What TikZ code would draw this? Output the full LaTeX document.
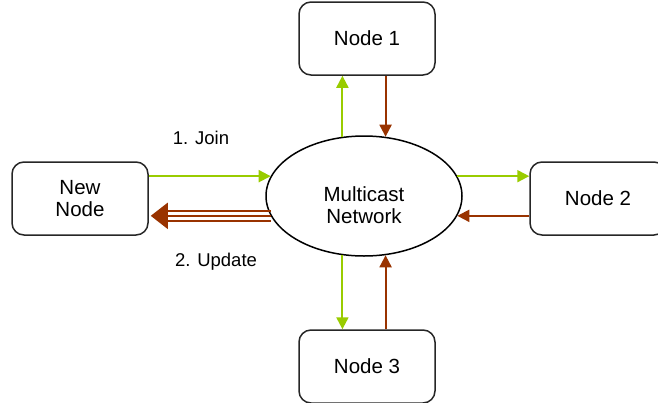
\documentclass[tikz,border=0pt]{standalone}
\usepackage{fontspec}
\setmainfont{Liberation Sans}
\usetikzlibrary{arrows.meta,shapes.geometric}
\definecolor{joingreen}{HTML}{99CC00}
\definecolor{updbrown}{HTML}{993300}
\begin{document}
\begin{tikzpicture}[x=1pt, y=-1pt, line join=round, font=\fontsize{20.5}{22}\selectfont,
	box/.style={draw=black!85, line width=1.5pt, rounded corners=12pt, minimum width=136pt, minimum height=73pt, align=center},
	joinline/.style={joingreen, line width=2pt, -{Triangle[length=12pt,width=12pt]}},
	updline/.style={updbrown, line width=2pt, -{Triangle[length=12pt,width=12pt]}}]
	\useasboundingbox (0,0) rectangle (658,402);
	\node[box] (n1) at (367,38.5) {Node 1};
	\node[box] (new) at (80,198.5) {New\\Node};
	\node[box] (n2) at (598,198.5) {Node 2};
	\node[box] (n3) at (367,366.5) {Node 3};
	\node[draw, ellipse, line width=1.5pt, minimum width=196pt, minimum height=120pt, inner sep=0pt] (net) at (364,196) {};
	\node[align=center] (netlabel) at (364,205) {Multicast\\Network};
	% join and update labels
	\node[font=\fontsize{18.5}{22}\selectfont] (join) at (201,138) {1. Join};
	\node[font=\fontsize{18.5}{22}\selectfont] (update) at (216,262) {2. Update};
	% join request
	\draw[joinline] (net.168 -| new.east) -- (net.168);
	% update, three lines
	\foreach \dy in {-5,5}
	\draw[updbrown, line width=2pt, shorten >=16pt] ([yshift=\dy pt]net.192) -- ([yshift=\dy pt]net.192 -| new.east);
	\draw[updbrown, line width=2pt, -{Triangle[length=17pt,width=26pt]}] (net.192) -- ([xshift=2pt]net.192 -| new.east);
	% other nodes
	\draw[joinline] (net.110) -- (net.110 |- n1.south);
	\draw[updline] (net.70 |- n1.south) -- (net.70);
	\draw[joinline] (net.12) -- (net.12 -| n2.west);
	\draw[updline] (net.348 -| n2.west) -- (net.348);
	\draw[joinline] (net.250) -- (net.250 |- n3.north);
	\draw[updline] (net.290 |- n3.north) -- (net.290);
\end{tikzpicture}
\end{document}
